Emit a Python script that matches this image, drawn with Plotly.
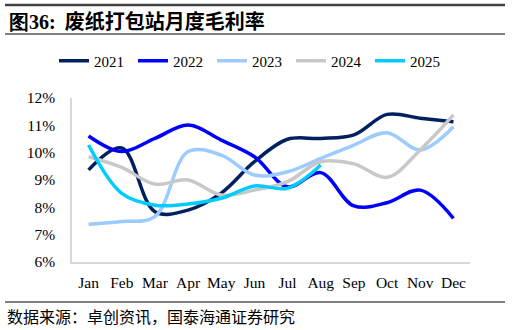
import plotly.graph_objects as go

months = ["Jan", "Feb", "Mar", "Apr", "May", "Jun", "Jul", "Aug", "Sep", "Oct", "Nov", "Dec"]
y2021 = [9.37, 10.17, 7.84, 7.9, 8.52, 9.67, 10.49, 10.52, 10.65, 11.4, 11.26, 11.13]
y2022 = [10.61, 10.04, 10.52, 11.01, 10.46, 9.85, 8.75, 9.27, 8.05, 8.17, 8.63, 7.6]
y2023 = [7.38, 7.48, 7.66, 10.04, 9.91, 9.18, 9.3, 9.79, 10.28, 10.73, 10.1, 10.95]
y2024 = [9.85, 9.46, 8.85, 9.0, 8.45, 8.63, 8.94, 9.67, 9.59, 9.1, 10.1, 11.38]
y2025 = [10.28, 8.51, 8.08, 8.12, 8.33, 8.78, 8.7, 9.55]

series = [
    ("2021", y2021, "#002060"),
    ("2022", y2022, "#0000FF"),
    ("2023", y2023, "#9DCBFF"),
    ("2024", y2024, "#C8C8C8"),
    ("2025", y2025, "#00CCFF"),
]

fig = go.Figure()
for name, vals, color in series:
    fig.add_trace(go.Scatter(
        x=months[:len(vals)], y=vals, name=name, mode="lines",
        line=dict(color=color, width=3.5, shape="spline", smoothing=1.0),
    ))

serif = "Liberation Serif, Times New Roman, serif"
cjk = "Noto Sans CJK SC"

def py(p):
    return (262 - p) / 164.0

def px(p):
    return (p - 72) / 398.0

fig.update_layout(
    width=512, height=330,
    margin=dict(l=72, r=42, t=98, b=68, autoexpand=False),
    paper_bgcolor="white", plot_bgcolor="white",
    font=dict(family=serif, size=15, color="#000000"),
    showlegend=True,
    legend=dict(orientation="h", x=px(54), xanchor="left", xref="paper",
                y=py(61), yanchor="middle",
                font=dict(family=serif, size=15, color="#000000"),
                entrywidth=34, entrywidthmode="pixels",
                tracegroupgap=0, bgcolor="rgba(0,0,0,0)"),
    xaxis=dict(type="category", showgrid=False, showline=True, linecolor="#D9D9D9",
               linewidth=1.5, ticks="", tickfont=dict(family=serif, size=15.5),
               range=[-0.5, 11.5], fixedrange=True, tickangle=0, ticklabelstandoff=6),
    yaxis=dict(range=[6, 12], showgrid=False, showline=True,
               linecolor="#D9D9D9", linewidth=1.5, ticks="",
               tickvals=[6, 7, 8, 9, 10, 11, 12],
               ticktext=["6%", "7%", "8%", "9%", "10%", "11%", "12%"],
               tickfont=dict(family=serif, size=15.5), ticklabelstandoff=12),
    shapes=[
        dict(type="line", xref="paper", yref="paper", x0=px(5), x1=px(505), y0=py(5), y1=py(5),
             line=dict(color="#404040", width=2.5)),
        dict(type="line", xref="paper", yref="paper", x0=px(5), x1=px(505), y0=py(34), y1=py(34),
             line=dict(color="#000000", width=1)),
        dict(type="line", xref="paper", yref="paper", x0=px(5), x1=px(505), y0=py(302), y1=py(302),
             line=dict(color="#000000", width=1)),
    ],
    annotations=[
        dict(xref="paper", yref="paper", x=px(7), y=py(20), xanchor="left", yanchor="middle",
             showarrow=False,
             text="<b><span style='font-family:Liberation Serif'>图36:</span>  废纸打包站月度毛利率</b>",
             font=dict(family=cjk, size=20, color="#000000")),
        dict(xref="paper", yref="paper", x=px(5), y=py(316), xanchor="left", yanchor="middle",
             showarrow=False,
             text="数据来源：卓创资讯，国泰海通证券研究",
             font=dict(family=cjk, size=16, color="#000000")),
    ],
)

fig.write_html("out.html")
